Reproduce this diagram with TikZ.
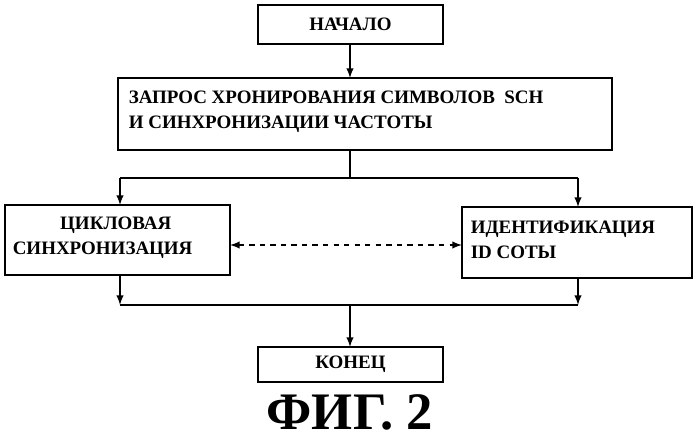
\documentclass[tikz,border=0pt]{standalone}
\usepackage{fontspec}
\setmainfont{Liberation Serif}
\usetikzlibrary{positioning}
\begin{document}
\begin{tikzpicture}[x=0.02cm,y=-0.02cm,>=latex]
        \tikzstyle{blk}=[draw,line width=0.9pt,inner sep=0pt]
        \tikzstyle{txt}=[font=\bfseries\fontsize{10.8}{14}\selectfont,align=left,inner sep=0pt]
        \tikzstyle{every path}+=[line width=0.9pt]
        \useasboundingbox (0,0) rectangle (699,438);
        % boxes
        \draw [blk] (258,5) rectangle (443,44);
        \node [txt] (start) at (350.5,24.5) {НАЧАЛО};
        \draw [blk] (118,78) rectangle (612,150);
        \node [txt,anchor=west] (req) at (128,112) {ЗАПРОС ХРОНИРОВАНИЯ СИМВОЛОВ \ SCH\\И СИНХРОНИЗАЦИИ ЧАСТОТЫ};
        \draw [blk] (5,205) rectangle (230,275);
        \node [txt,anchor=west] (frame) at (12,238) {\hspace*{2.5em}ЦИКЛОВАЯ\\СИНХРОНИЗАЦИЯ};
        \draw [blk] (462,207) rectangle (692,278);
        \node [txt,anchor=west] (cell) at (470,240) {ИДЕНТИФИКАЦИЯ\\ID СОТЫ};
        \draw [blk] (258,347) rectangle (443,382);
        \node [txt] (stop) at (350.5,364.5) {КОНЕЦ};
        \node [font=\bfseries\fontsize{30}{30}\selectfont] (fig) at (350,412) {ФИГ. 2};
        % connectors
        \coordinate (s1) at (350,44);
        \coordinate (s2) at (350,78);
        \coordinate (r1) at (350,150);
        \coordinate (r2) at (350,178);
        \coordinate (la) at (120,178);
        \coordinate (lb) at (120,205);
        \coordinate (ra) at (578,178);
        \coordinate (rb) at (578,207);
        \coordinate (lc) at (120,275);
        \coordinate (ld) at (120,305);
        \coordinate (rc) at (578,278);
        \coordinate (rd) at (578,305);
        \coordinate (m1) at (350,305);
        \coordinate (m2) at (350,347);
        \coordinate (d1) at (230,245);
        \coordinate (d2) at (462,245);
        \draw [->] (s1) -- (s2);
        \draw (r1) -- (r2);
        \draw [->] (la) -- (lb);
        \draw [->] (ra) -- (rb);
        \draw (la) -- (ra);
        \draw [->] (lc) -- (ld);
        \draw [->] (rc) -- (rd);
        \draw (ld) -- (rd);
        \draw [->] (m1) -- (m2);
        \draw [<->,dashed] (d1) -- (d2);
\end{tikzpicture}
\end{document}
